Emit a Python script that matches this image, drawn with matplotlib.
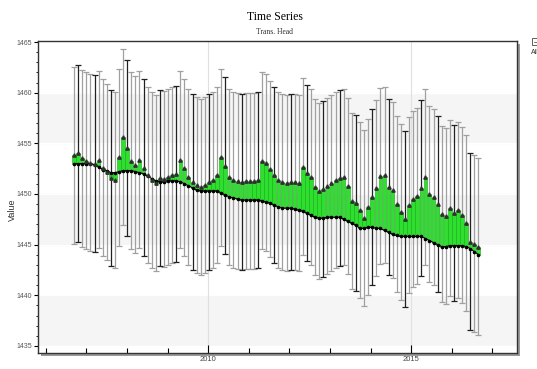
import matplotlib
matplotlib.use("Agg")
import matplotlib.pyplot as plt
import matplotlib.dates as mdates
from matplotlib.patches import Rectangle
from matplotlib.lines import Line2D
import numpy as np
import pandas as pd

# sample dates (roughly every 5 weeks, Sep 2006 - Aug 2016)
dates = pd.date_range("2006-09-12", "2016-08-28", periods=100)

# simulated head (black dotted line)
simulated = [
    1453.0, 1453.0, 1453.0, 1453.0, 1453.0, 1452.9, 1452.7, 1452.4, 1452.3, 1452.1,
    1452.1, 1452.2, 1452.3, 1452.3, 1452.3, 1452.2, 1452.1, 1452.0, 1451.8, 1451.5,
    1451.3, 1451.2, 1451.2, 1451.3, 1451.3, 1451.3, 1451.2, 1451.0, 1450.8, 1450.6,
    1450.4, 1450.3, 1450.3, 1450.3, 1450.3, 1450.3, 1450.1, 1449.9, 1449.7, 1449.6,
    1449.5, 1449.4, 1449.4, 1449.4, 1449.4, 1449.4, 1449.3, 1449.2, 1449.1, 1448.9,
    1448.7, 1448.6, 1448.6, 1448.6, 1448.5, 1448.4, 1448.3, 1448.1, 1447.9, 1447.7,
    1447.6, 1447.6, 1447.7, 1447.7, 1447.7, 1447.7, 1447.5, 1447.3, 1447.1, 1446.9,
    1446.6, 1446.6, 1446.7, 1446.7, 1446.6, 1446.6, 1446.4, 1446.2, 1446.0, 1445.9,
    1445.8, 1445.8, 1445.8, 1445.8, 1445.8, 1445.8, 1445.6, 1445.4, 1445.2, 1445.0,
    1444.8, 1444.8, 1444.9, 1444.9, 1444.9, 1444.9, 1444.8, 1444.6, 1444.3, 1444.0,
]

# observed head (triangles)
observed = [
    1453.8, 1454.0, 1453.5, 1453.3, 1453.1, 1453.0, 1453.4, 1452.6, 1452.2, 1451.6,
    1451.4, 1453.6, 1455.6, 1454.5, 1453.3, 1452.9, 1453.4, 1452.6, 1451.9, 1451.4,
    1451.1, 1451.6, 1451.5, 1451.7, 1451.9, 1452.0, 1453.4, 1452.6, 1451.7, 1451.2,
    1450.9, 1450.7, 1450.9, 1451.2, 1451.4, 1451.9, 1453.6, 1452.8, 1451.7, 1451.4,
    1451.3, 1451.2, 1451.3, 1451.3, 1451.3, 1451.4, 1453.3, 1453.1, 1452.5, 1451.9,
    1451.4, 1451.2, 1451.1, 1451.2, 1451.2, 1451.1, 1452.7, 1452.1, 1451.7, 1450.7,
    1450.3, 1450.5, 1450.8, 1451.1, 1451.4, 1451.6, 1451.7, 1450.8, 1449.3, 1449.1,
    1448.4, 1447.6, 1448.7, 1449.7, 1450.6, 1451.8, 1451.9, 1450.7, 1450.4, 1449.0,
    1448.2, 1447.5, 1448.9, 1449.5, 1449.8, 1450.6, 1451.7, 1450.0, 1449.7, 1449.0,
    1448.0, 1447.8, 1448.6, 1448.1, 1448.4, 1447.9, 1447.1, 1445.3, 1445.1, 1444.8,
]

obs_error = 8.7  # half-width of the observation error bars

y_ticks = [1435, 1440, 1445, 1450, 1455, 1460, 1465]

sim = np.array(simulated)
obs = np.array(observed)

fig = plt.figure(figsize=(5.37, 3.69), dpi=100)
ax = fig.add_axes([0.0708, 0.0434, 0.8920, 0.8455])

# drop shadow behind the plot frame
fig.patches.append(Rectangle((0.0708 + 0.006, 0.0434 - 0.008), 0.8920, 0.8455,
                             transform=fig.transFigure, facecolor="#9a9a9a",
                             edgecolor="none", zorder=0))
ax.set_zorder(1)

ax.set_facecolor("white")
# alternating horizontal bands
for lo in [1435, 1445, 1455]:
    ax.axhspan(lo, lo + 5, color="#f5f5f5", zorder=0)
for y in y_ticks:
    ax.axhline(y, color="white", lw=1.0, zorder=0.5)
for yr in [2010, 2015]:
    ax.axvline(pd.Timestamp(f"{yr}-01-01"), color="#e0e0e0", lw=0.8, zorder=0.5)

# error bars, mostly grey with some black ones
dark = np.arange(len(dates)) % 4 == 1
ax.errorbar(dates[~dark], obs[~dark], yerr=obs_error, fmt="none",
            ecolor="#a0a0a0", elinewidth=0.9, capsize=2.2, capthick=0.9, zorder=2)
ax.errorbar(dates[dark], obs[dark], yerr=obs_error, fmt="none",
            ecolor="#202020", elinewidth=0.9, capsize=2.2, capthick=0.9, zorder=2)

# residual bars between simulated and observed
ax.bar(dates, obs - sim, bottom=sim, width=32, color="#2ee02e",
       edgecolor="#18a818", linewidth=0.4, zorder=3)

ax.plot(dates, sim, color="black", lw=0.8, marker="o", ms=1.6, zorder=4)
ax.plot(dates, obs, ls="none", marker="^", ms=2.4, color="#303030", zorder=5)

ax.set_xlim(pd.Timestamp("2005-10-22"), pd.Timestamp("2017-08-10"))
ax.set_ylim(1434.3, 1465.1)

ax.xaxis.set_major_locator(mdates.YearLocator(5))
ax.xaxis.set_minor_locator(mdates.YearLocator(1))
ax.xaxis.set_major_formatter(mdates.DateFormatter("%Y"))
ax.set_yticks(y_ticks)
ax.set_yticks(np.arange(1435, 1466, 1), minor=True)

ax.tick_params(axis="x", which="major", direction="in", length=6, width=0.8,
               labelsize=5.5, labelcolor="#444444", pad=2)
ax.tick_params(axis="x", which="minor", direction="in", length=3.5, width=0.8)
ax.tick_params(axis="y", which="major", direction="out", length=3, width=0.8,
               labelsize=5, labelcolor="#555555", pad=1.5)
ax.tick_params(axis="y", which="minor", direction="out", length=1.5, width=0.6)
for lab in ax.get_xticklabels() + ax.get_yticklabels():
    lab.set_family("Liberation Sans")

for sp in ax.spines.values():
    sp.set_color("#333333")
    sp.set_linewidth(1.0)

ax.set_ylabel("Value", fontsize=6.5, family="Liberation Sans", color="#333333")
ax.yaxis.set_label_coords(-0.045, 0.46)
ax.set_xlabel("Time", fontsize=6.5, family="Liberation Sans", color="#333333",
              labelpad=5)

fig.text(0.512, 0.953, "Time Series", ha="center", va="center",
         family="Liberation Serif", fontsize=8.5)
fig.text(0.512, 0.912, "Trans. Head", ha="center", va="center",
         family="Liberation Serif", fontsize=5.5, color="#333333")

# legend, partly outside the picture
fig.patches.append(Rectangle((0.9907, 0.878), 0.03, 0.019, transform=fig.transFigure,
                             facecolor="white", edgecolor="#444444", lw=0.6))
fig.lines.append(Line2D([0.994, 1.0], [0.8875, 0.8875], transform=fig.transFigure,
                        color="#666666", lw=0.6))
fig.text(0.989, 0.859, "All", ha="left", va="center", fontsize=5,
         family="Liberation Sans", color="#333333")

fig.savefig("out.png", dpi=100)
